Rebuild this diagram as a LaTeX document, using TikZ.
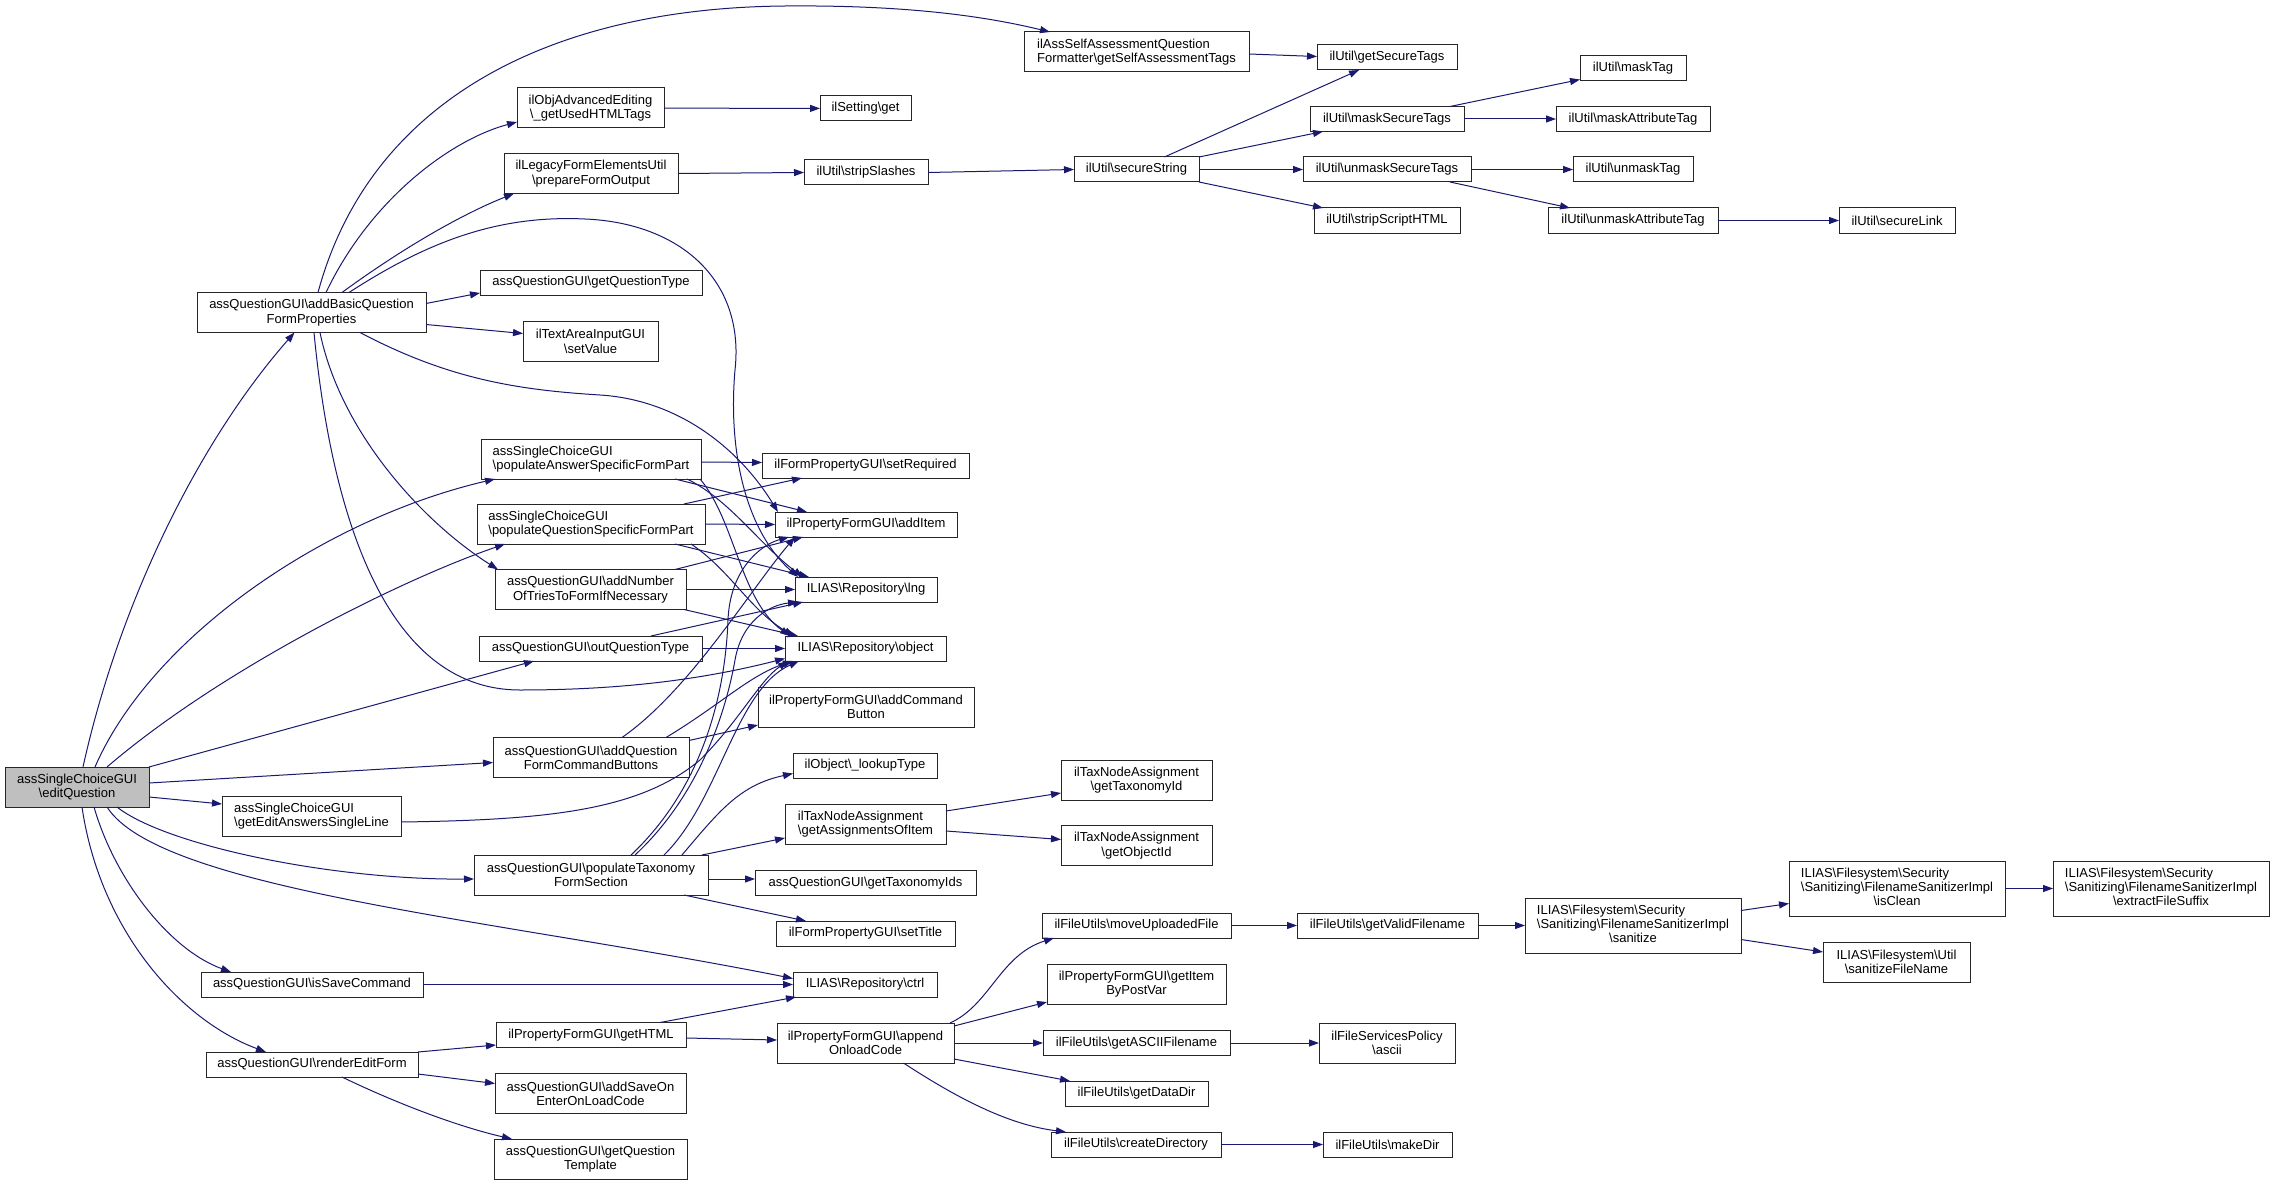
\documentclass[tikz,border=0pt]{standalone}
\usepackage{fontspec}
\setmainfont{Liberation Sans}
\usetikzlibrary{arrows.meta,calc}
\definecolor{edgeblue}{RGB}{25,25,112}
\newcommand{\bsl}{\textbackslash}
\newcommand{\threeln}[3]{\begin{tabular}{@{}l@{}}#1\\#2\\\multicolumn{1}{@{}c@{}}{#3}\end{tabular}}
\tikzset{
  fnbase/.style={draw=black!85, line width=1pt, fill=white, inner sep=0pt, outer sep=0pt, font=\fontsize{13}{14.3}\selectfont},
  fn/.style={fnbase, align=center},
  fnl/.style={fnbase, align=left},
  sz/.style 2 args={minimum width=#1pt, minimum height=#2pt},
  e/.style={draw=edgeblue, line width=1pt, -{Triangle[length=10pt,width=7pt]}},
}
\begin{document}
\begin{tikzpicture}[x=1pt,y=-1pt]
\useasboundingbox (0,0) rectangle (2275,1185);
\fill[white] (0,0) rectangle (2275,1185);
% ---------- nodes ----------
\node[fn,sz={144}{40},fill=black!25] (eq) at (77,787) {assSingleChoiceGUI\\\bsl editQuestion};
\node[fn,sz={229}{40}] (ab) at (311.5,312.5) {assQuestionGUI\bsl addBasicQuestion\\FormProperties};
\node[fnl,sz={225}{40}] (sa) at (1136.5,52) {ilAssSelfAssessmentQuestion\\Formatter\bsl getSelfAssessmentTags};
\node[fn,sz={147}{40}] (oae) at (590.5,108) {ilObjAdvancedEditing\\\bsl\_getUsedHTMLTags};
\node[fn,sz={174}{40}] (lfe) at (591,173.5) {ilLegacyFormElementsUtil\\\bsl prepareFormOutput};
\node[fn,sz={222}{25}] (gqt) at (591,282.5) {assQuestionGUI\bsl getQuestionType};
\node[fn,sz={135}{40}] (tav) at (590.5,341.5) {ilTextAreaInputGUI\\\bsl setValue};
\node[fnl,sz={220}{40}] (pa) at (591,459) {assSingleChoiceGUI\\\bsl populateAnswerSpecificFormPart};
\node[fnl,sz={228}{40}] (pq) at (591,524) {assSingleChoiceGUI\\\bsl populateQuestionSpecificFormPart};
\node[fn,sz={191}{40}] (ant) at (590.5,589.5) {assQuestionGUI\bsl addNumber\\OfTriesToFormIfNecessary};
\node[fn,sz={223}{25}] (oqt) at (590.5,648.5) {assQuestionGUI\bsl outQuestionType};
\node[fn,sz={196}{40}] (aqb) at (591,757.5) {assQuestionGUI\bsl addQuestion\\FormCommandButtons};
\node[fnl,sz={179}{40}] (gea) at (311.5,816) {assSingleChoiceGUI\\\bsl getEditAnswersSingleLine};
\node[fn,sz={234}{40}] (pt) at (591,875) {assQuestionGUI\bsl populateTaxonomy\\FormSection};
\node[fn,sz={222}{25}] (isc) at (312,984.5) {assQuestionGUI\bsl isSaveCommand};
\node[fn,sz={212}{25}] (ref) at (312,1064.5) {assQuestionGUI\bsl renderEditForm};
\node[fn,sz={190}{25}] (gh) at (591,1035) {ilPropertyFormGUI\bsl getHTML};
\node[fn,sz={191}{40}] (asoe) at (590.5,1093.5) {assQuestionGUI\bsl addSaveOn\\EnterOnLoadCode};
\node[fn,sz={193}{40}] (gqtp) at (590.5,1159) {assQuestionGUI\bsl getQuestion\\Template};
\node[fn,sz={91}{25}] (sg) at (865.5,108.5) {ilSetting\bsl get};
\node[fn,sz={124}{25}] (ss) at (866,172.5) {ilUtil\bsl stripSlashes};
\node[fn,sz={207}{25}] (sr) at (865.5,465.5) {ilFormPropertyGUI\bsl setRequired};
\node[fn,sz={182}{25}] (ai) at (866,524.5) {ilPropertyFormGUI\bsl addItem};
\node[fn,sz={142}{25}] (lng) at (866,589.5) {ILIAS\bsl Repository\bsl lng};
\node[fn,sz={161}{25}] (obj) at (865.5,648.5) {ILIAS\bsl Repository\bsl object};
\node[fn,sz={216}{40}] (acb) at (866,707) {ilPropertyFormGUI\bsl addCommand\\Button};
\node[fn,sz={144}{25}] (lt) at (865,765.5) {ilObject\bsl\_lookupType};
\node[fnl,sz={161}{40}] (gai) at (865.5,824) {ilTaxNodeAssignment\\\bsl getAssignmentsOfItem};
\node[fn,sz={221}{25}] (gti) at (865.5,883) {assQuestionGUI\bsl getTaxonomyIds};
\node[fn,sz={179}{25}] (st) at (865.5,933.5) {ilFormPropertyGUI\bsl setTitle};
\node[fn,sz={144}{25}] (ctrl) at (865,984.5) {ILIAS\bsl Repository\bsl ctrl};
\node[fn,sz={177}{40}] (aoc) at (865.5,1043) {ilPropertyFormGUI\bsl append\\OnloadCode};
\node[fn,sz={125}{25}] (sstr) at (1136.5,169.5) {ilUtil\bsl secureString};
\node[fn,sz={151}{40}] (gtid) at (1136.5,780) {ilTaxNodeAssignment\\\bsl getTaxonomyId};
\node[fn,sz={151}{40}] (goid) at (1136.5,845.5) {ilTaxNodeAssignment\\\bsl getObjectId};
\node[fn,sz={189}{25}] (muf) at (1136.5,925.5) {ilFileUtils\bsl moveUploadedFile};
\node[fn,sz={179}{40}] (gibp) at (1136.5,984) {ilPropertyFormGUI\bsl getItem\\ByPostVar};
\node[fn,sz={187}{25}] (gaf) at (1136.5,1043) {ilFileUtils\bsl getASCIIFilename};
\node[fn,sz={143}{25}] (gdd) at (1136.5,1093.5) {ilFileUtils\bsl getDataDir};
\node[fn,sz={170}{25}] (cd) at (1136,1144.5) {ilFileUtils\bsl createDirectory};
\node[fn,sz={140}{25}] (gst) at (1387,57.5) {ilUtil\bsl getSecureTags};
\node[fn,sz={154}{25}] (mst) at (1387,119) {ilUtil\bsl maskSecureTags};
\node[fn,sz={168}{25}] (ust) at (1387,169.5) {ilUtil\bsl unmaskSecureTags};
\node[fn,sz={146}{25}] (ssh) at (1387,220.5) {ilUtil\bsl stripScriptHTML};
\node[fn,sz={181}{25}] (gvf) at (1387.5,925.5) {ilFileUtils\bsl getValidFilename};
\node[fn,sz={136}{40}] (asc) at (1387,1043) {ilFileServicesPolicy\\\bsl ascii};
\node[fn,sz={129}{25}] (md) at (1387.5,1144.5) {ilFileUtils\bsl makeDir};
\node[fn,sz={106}{25}] (mt) at (1633,68) {ilUtil\bsl maskTag};
\node[fn,sz={154}{25}] (mat) at (1633,119) {ilUtil\bsl maskAttributeTag};
\node[fn,sz={120}{25}] (ut) at (1633,169.5) {ilUtil\bsl unmaskTag};
\node[fn,sz={170}{25}] (uat) at (1633,220.5) {ilUtil\bsl unmaskAttributeTag};
\node[fnbase,sz={216}{55}] (san) at (1633,925.5) {\threeln{ILIAS\bsl Filesystem\bsl Security}{\bsl Sanitizing\bsl FilenameSanitizerImpl}{\bsl sanitize}};
\node[fn,sz={116}{25}] (sl) at (1897,220.5) {ilUtil\bsl secureLink};
\node[fnbase,sz={216}{55}] (ic) at (1897,888.5) {\threeln{ILIAS\bsl Filesystem\bsl Security}{\bsl Sanitizing\bsl FilenameSanitizerImpl}{\bsl isClean}};
\node[fn,sz={147}{40}] (sfn) at (1896.5,962) {ILIAS\bsl Filesystem\bsl Util\\\bsl sanitizeFileName};
\node[fnbase,sz={216}{55}] (efs) at (2161,888.5) {\threeln{ILIAS\bsl Filesystem\bsl Security}{\bsl Sanitizing\bsl FilenameSanitizerImpl}{\bsl extractFileSuffix}};
% ---------- edges from editQuestion ----------
\draw[e] ($(eq.north)+(6,0)$) .. controls (120,600) and (200,440) .. ($(ab.south)+(-17,0)$);
\draw[e] ($(eq.north)+(18,0)$) .. controls (150,640) and (320,520) .. ($(pa.south west)+(14,0)$);
\draw[e] ($(eq.north)+(30,0)$) .. controls (220,670) and (400,580) .. ($(pq.south west)+(28,0)$);
\draw[e] (eq.north east) -- ($(oqt.south west)+(55,0)$);
\draw[e] ($(eq.east)+(0,-4)$) -- ($(aqb.west)+(0,5)$);
\draw[e] ($(eq.east)+(0,10)$) -- ($(gea.west)+(0,-12)$);
\draw[e] ($(eq.south)+(40,0)$) .. controls (165,845) and (330,880) .. ($(pt.west)+(0,4)$);
\draw[e] ($(eq.south)+(30,0)$) .. controls (160,890) and (500,920) .. ($(ctrl.west)+(0,-6)$);
\draw[e] ($(eq.south)+(17,0)$) .. controls (115,880) and (170,950) .. ($(isc.north west)+(30,0)$);
\draw[e] ($(eq.south)+(5,0)$) .. controls (100,930) and (180,1020) .. ($(ref.north west)+(60,0)$);
% ---------- edges from addBasicQuestionFormProperties ----------
\draw[e] ($(ab.north)+(6.5,0)$) .. controls (370,100) and (550,8) .. (785,6) .. controls (900,5) and (980,15) .. ($(sa.north west)+(26,0)$);
\draw[e] ($(ab.north)+(14.5,0)$) .. controls (370,200) and (450,140) .. ($(oae.west)+(0,14)$);
\draw[e] ($(ab.north)+(30.5,0)$) .. controls (400,250) and (460,215) .. ($(lfe.south west)+(10,0)$);
\draw[e] ($(ab.north)+(37.5,0)$) .. controls (430,240) and (500,215) .. (585,219) .. controls (680,223) and (745,280) .. (735,370) .. controls (728,450) and (745,530) .. ($(lng.north west)+(3,0)$);
\draw[e] ($(ab.east)+(0,-9)$) -- ($(gqt.south west)+(0,-2)$);
\draw[e] ($(ab.east)+(0,12)$) -- ($(tav.west)+(0,-8)$);
\draw[e] ($(ab.south)+(48.5,0)$) .. controls (450,380) and (520,390) .. (600,395) .. controls (680,400) and (740,450) .. ($(ai.north west)+(3,0)$);
\draw[e] ($(ab.south)+(2.5,0)$) .. controls (330,500) and (380,690) .. (520,690) .. controls (640,690) and (720,675) .. ($(obj.west)+(0,10)$);
\draw[e] ($(ab.south)+(8.5,0)$) .. controls (340,430) and (420,520) .. ($(ant.north west)+(3,0)$);
% ---------- populate... ----------
\draw[e] ($(pa.east)+(0,3)$) -- ($(sr.west)+(0,-3)$);
\draw[e] ($(pa.south east)+(-26,0)$) -- ($(ai.north west)+(32,0)$);
\draw[e] ($(pa.south east)+(-14,0)$) .. controls (730,500) and (760,545) .. ($(lng.north west)+(8,0)$);
\draw[e] ($(pa.south east)+(-1,0)$) .. controls (735,520) and (740,600) .. ($(obj.north west)+(5,0)$);
\draw[e] ($(pq.north east)+(-21,0)$) -- ($(sr.south west)+(40,0)$);
\draw[e] (pq.east) -- (ai.west);
\draw[e] ($(pq.south east)+(-30,0)$) -- ($(lng.north west)+(14,0)$);
\draw[e] ($(pq.south east)+(-14,0)$) .. controls (730,570) and (750,610) .. ($(obj.north west)+(9,0)$);
\draw[e] ($(ant.north east)+(-11,0)$) -- ($(ai.south west)+(28,0)$);
\draw[e] (ant.east) -- (lng.west);
\draw[e] ($(ant.south east)+(-2,0)$) -- ($(obj.north west)+(13,0)$);
\draw[e] ($(oqt.north east)+(-51,0)$) -- ($(lng.south west)+(8,0)$);
\draw[e] (oqt.east) -- (obj.west);
\draw[e] ($(aqb.north)+(31,0)$) .. controls (690,690) and (750,590) .. ($(ai.south west)+(20,0)$);
\draw[e] ($(aqb.north)+(75,0)$) .. controls (720,705) and (750,675) .. ($(obj.south west)+(8,0)$);
\draw[e] ($(aqb.north east)+(0,3)$) -- ($(acb.south west)+(0,-2)$);
\draw[e] ($(gea.east)+(0,6)$) .. controls (550,820) and (640,810) .. (700,760) .. controls (740,720) and (760,680) .. ($(obj.south west)+(3,0)$);
% ---------- populateTaxonomyFormSection ----------
\draw[e] ($(pt.north)+(40,0)$) .. controls (700,790) and (725,700) .. (728,620) .. controls (730,570) and (760,545) .. ($(ai.south west)+(14,0)$);
\draw[e] ($(pt.north)+(44,0)$) .. controls (705,790) and (728,700) .. (735,660) .. controls (742,620) and (770,605) .. ($(lng.south west)+(3,0)$);
\draw[e] ($(pt.north)+(73,0)$) .. controls (720,800) and (735,690) .. ($(obj.south west)+(14,0)$);
\draw[e] ($(pt.north)+(91,0)$) .. controls (720,810) and (740,785) .. ($(lt.west)+(0,8)$);
\draw[e] ($(pt.north east)+(-6,0)$) -- ($(gai.west)+(0,14)$);
\draw[e] ($(pt.east)+(0,4)$) -- ($(gti.west)+(0,-4)$);
\draw[e] ($(pt.south east)+(-24,0)$) -- ($(st.north west)+(30,0)$);
% ---------- lower part ----------
\draw[e] (isc.east) -- (ctrl.west);
\draw[e] (ref.north east) -- ($(gh.west)+(0,10)$);
\draw[e] ($(ref.south east)+(0,-3)$) -- ($(asoe.west)+(0,-10)$);
\draw[e] ($(ref.south)+(30,0)$) .. controls (400,1105) and (460,1127) .. ($(gqtp.north west)+(18,0)$);
\draw[e] ($(gh.north east)+(-26,0)$) -- ($(ctrl.south west)+(3,0)$);
\draw[e] ($(gh.east)+(0,3)$) -- ($(aoc.west)+(0,-3)$);
\draw[e] ($(aoc.north east)+(-4,0)$) .. controls (990,1005) and (1000,955) .. ($(muf.south west)+(12,0)$);
\draw[e] ($(aoc.north east)+(0,3)$) -- ($(gibp.south west)+(0,-2)$);
\draw[e] (aoc.east) -- (gaf.west);
\draw[e] ($(aoc.south east)+(0,-4)$) -- ($(gdd.north west)+(5,0)$);
\draw[e] ($(aoc.south)+(38,0)$) .. controls (960,1100) and (1010,1125) .. ($(cd.north west)+(15,0)$);
\draw[e] (muf) -- (gvf);
\draw[e] (gvf) -- (san);
\draw[e] ($(san.east)+(0,-15)$) -- ($(ic.west)+(0,15)$);
\draw[e] ($(san.east)+(0,14)$) -- ($(sfn.west)+(0,-10)$);
\draw[e] (ic) -- (efs);
\draw[e] (gaf) -- (asc);
\draw[e] (cd) -- (md);
\draw[e] ($(gai.east)+(0,-13)$) -- ($(gtid.west)+(0,13)$);
\draw[e] ($(gai.east)+(0,7)$) -- ($(goid.west)+(0,-6)$);
% ---------- upper part ----------
\draw[e] ($(sa.east)+(0,2)$) -- ($(gst.west)+(0,-1)$);
\draw[e] (oae) -- (sg);
\draw[e] (lfe.east) -- (ss.west);
\draw[e] (ss.east) -- (sstr.west);
\draw[e] (sstr) -- (gst);
\draw[e] (sstr.north east) -- ($(mst.south west)+(13,0)$);
\draw[e] (sstr) -- (ust);
\draw[e] (sstr.south east) -- ($(ssh.north west)+(9,0)$);
\draw[e] ($(mst.north east)+(-14,0)$) -- ($(mt.south west)+(0,-1)$);
\draw[e] (mst) -- (mat);
\draw[e] (ust) -- (ut);
\draw[e] ($(ust.south east)+(-21,0)$) -- ($(uat.north west)+(22,0)$);
\draw[e] (uat) -- (sl);
\end{tikzpicture}
\end{document}
